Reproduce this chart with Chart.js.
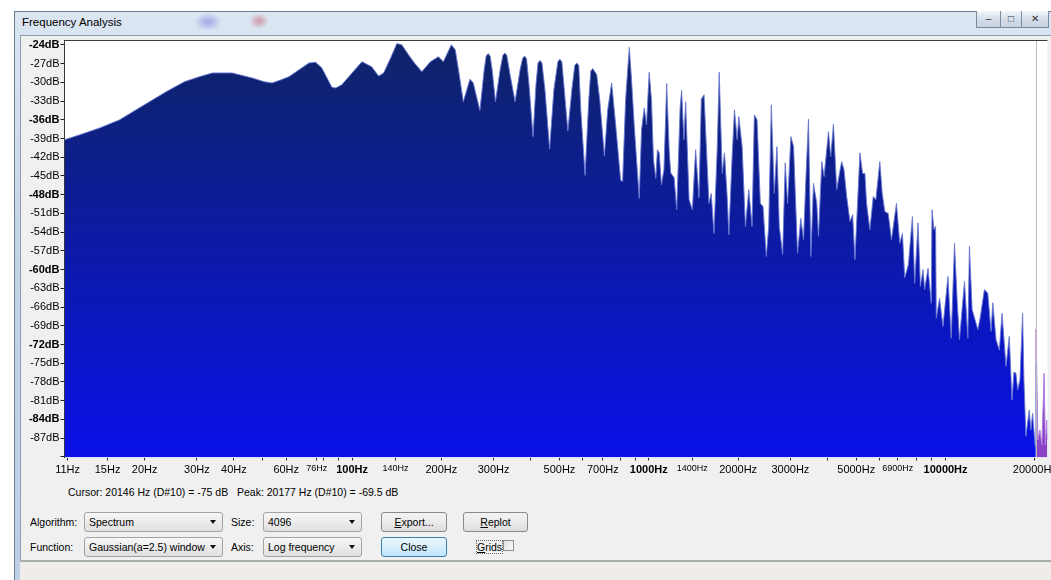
<!DOCTYPE html>
<html>
<head>
<meta charset="utf-8">
<title>Frequency Analysis</title>
<script src="https://cdn.jsdelivr.net/npm/chart.js"></script>
<style>
  html, body { margin: 0; padding: 0; }
  body { width: 1051px; height: 580px; overflow: hidden; position: relative; background: #fff;
         font-family: "Liberation Sans", Arial, sans-serif; }
  #frame { position: absolute; left: 14px; top: 11px; width: 1060px; height: 580px;
           border-left: 1px solid #6e7c8e; border-top: 1px solid #6e7c8e;
           background:
             radial-gradient(ellipse 14px 9px at 193px 10px, rgba(120,110,220,0.55), rgba(120,110,220,0) 100%),
             radial-gradient(ellipse 10px 8px at 244px 9px, rgba(200,90,110,0.55), rgba(200,90,110,0) 100%),
             linear-gradient(#dbe6f2, #c4d5e8 40%, #bcd0e6); }
  #title { position: absolute; left: 22px; top: 16px; font-size: 11.5px; color: #000; }
  #client { position: absolute; left: 20px; top: 35px; width: 1050px; height: 525px;
            background: #f0f0f0; border-left: 1px solid #8e9bad; border-top: 1px solid #8e9bad; }
  #status { position: absolute; left: 20px; top: 560px; width: 1050px; height: 20px;
            background: #f0ecea; border-top: 2px solid #a9adac; }
  .tb { position: absolute; top: 11px; height: 17px; border: 1px solid #7a8aa0; border-top: none;
        background: linear-gradient(#f4f7fb, #d5deea 50%, #c6d2e2); box-sizing: border-box; }
  .tb span { position: absolute; left: 0; right: 0; text-align: center; font-size: 10px; color: #333; top: 2px; }
  .lbl { position: absolute; font-size: 10.5px; color: #000; white-space: nowrap; }
  .combo { position: absolute; height: 20px; box-sizing: border-box; border: 1px solid #a3a3a3; border-radius: 3px;
           background: linear-gradient(#f7f7f7, #ececec 50%, #dfdfdf); font-size: 10.5px; line-height: 18px;
           padding-left: 4px; white-space: nowrap; }
  .combo::after { content: ""; position: absolute; right: 6px; top: 7px; border-left: 3.5px solid transparent;
                  border-right: 3.5px solid transparent; border-top: 4px solid #111; }
  .btn { position: absolute; height: 20px; box-sizing: border-box; border: 1px solid #8a8a8a; border-radius: 3px;
         background: linear-gradient(#f3f3f3, #ebebeb 50%, #dcdcdc); font-size: 10.5px; line-height: 18px;
         text-align: center; }
  .btn.focus { border-color: #3c7fb1; background: linear-gradient(#eaf6fd, #d9effc 50%, #bee6fd); }
  #chk { position: absolute; left: 503px; top: 540px; width: 11px; height: 11px; box-sizing: border-box;
         border: 1px solid #8f8f8f; background: linear-gradient(135deg, #e0e0e0, #fafafa); }
  #spec { position: absolute; left: 0; top: 0; }
</style>
</head>
<body>
<div id="frame"></div>
<div id="title">Frequency Analysis</div>
<div class="tb" style="left:976px;width:25px;"><span>&#8211;</span></div>
<div class="tb" style="left:1000px;width:22px;"><span>&#9633;</span></div>
<div class="tb" style="left:1021px;width:28px;"><span>&#10005;</span></div>
<div id="client"></div>
<div id="status"></div>

<div class="lbl" style="left:68px;top:486px;">Cursor: 20146 Hz (D#10) = -75 dB&nbsp;&nbsp;&nbsp;Peak: 20177 Hz (D#10) = -69.5 dB</div>

<div class="lbl" style="left:30px;top:516px;">Algorithm:</div>
<div class="combo" style="left:84px;top:512px;width:139px;">Spectrum</div>
<div class="lbl" style="left:231px;top:516px;">Size:</div>
<div class="combo" style="left:263px;top:512px;width:99px;">4096</div>
<div class="btn" style="left:381px;top:512px;width:66px;"><u>E</u>xport...</div>
<div class="btn" style="left:463px;top:512px;width:65px;"><u>R</u>eplot</div>

<div class="lbl" style="left:30px;top:541px;">Function:</div>
<div class="combo" style="left:84px;top:537px;width:139px;">Gaussian(a=2.5) window</div>
<div class="lbl" style="left:231px;top:541px;">Axis:</div>
<div class="combo" style="left:263px;top:537px;width:99px;">Log frequency</div>
<div class="btn focus" style="left:381px;top:537px;width:66px;">Close</div>
<div class="lbl" style="left:477px;top:541px;outline:1px dotted #666;"><u>G</u>rids</div>
<div id="chk"></div>

<canvas id="spec" width="1060" height="500"></canvas>

<script>
// spectrum: frequency (Hz) and level (dB)
const freqHz = [
  10.74, 12.1, 14.13, 16.49, 18.27, 20.78, 23.64, 27.24, 30.6, 33.82, 39.48, 46.07, 50.54, 53.77, 57.65, 61.3,
  66.25, 71.57, 75.4, 79.1, 85.5, 88.2, 92.35, 97.5,
  108, 116.4, 122.9, 127.8, 134.9, 141.6, 147.1, 155, 162.3, 171.8, 183.7, 195.4, 203.1, 216.1, 222.8, 229.8,
  237.1, 249.7, 256.1, 269.7, 278.8, 283.1, 287.5, 292.0, 296.6, 304.3, 315.5, 322.2, 327.2, 332.3, 340.9, 354.3,
  368.3, 375.4, 381.3, 387.2, 394.8, 407.2, 416.7, 423.2, 429.8, 436.5, 446.7, 463.2, 478.8, 493.8, 501.5, 509.3,
  517.3, 533.6, 550.4, 563.1, 571.9, 580.8, 590, 609.9, 627.7, 637.5, 647.4, 667.7, 683.4,
  708.6, 726.9, 749.7, 773.3, 803.6, 816.1, 835.3, 859.5, 874.9, 893.3, 909.4, 928.6, 945.3, 965.1, 982.4, 1003,
  1021, 1037, 1056, 1069, 1084, 1103, 1125, 1149, 1171, 1185, 1217, 1242, 1275, 1290, 1313, 1331, 1367, 1402,
  1438, 1476, 1503, 1535, 1574, 1595, 1623, 1658, 1700, 1727, 1768, 1799, 1837, 1861, 1909, 1944, 1985, 2011,
  2063, 2116, 2173, 2228, 2268, 2316, 2376, 2426, 2489, 2535, 2587, 2647, 2703, 2752, 2825, 2882, 2936, 3012,
  3075, 3171, 3253, 3322, 3389, 3453, 3516, 3589, 3682, 3731, 3828, 3896, 4031, 4103, 4190, 4298, 4382, 4467,
  4547, 4643, 4763, 4863, 4950, 5145, 5254, 5348, 5419, 5559, 5707, 5823, 6005, 6118, 6242, 6408, 6573, 6833,
  7009, 7157, 7285, 7496, 7733, 7871, 8080, 8225, 8399, 8502, 8728, 8954, 9003, 9143, 9256, 9306, 9547, 9802,
  10186, 10450, 10720, 10947, 11143, 11582, 11890, 12036, 12290, 12846, 13076, 13517, 13877, 14236, 14424, 14795,
  15178, 15499, 15985, 16398, 16742, 17003, 17268, 17500, 17812, 18185, 18370, 18656, 19138, 19391, 19647, 20045,
  20146
];
const levelDb = [
  -39.2, -38.4, -37.3, -36.0, -34.7, -33.1, -31.5, -29.9, -29.1, -28.5, -28.5, -29.3, -29.9, -30.1, -29.6, -29.1,
  -28.0, -26.9, -26.8, -27.7, -30.8, -30.9, -30.4, -29.1,
  -26.7, -27.5, -29.0, -28.5, -26.1, -23.8, -24.0, -25.6, -26.9, -28.3, -26.7, -25.9, -26.7, -24.0, -24.8, -28.8,
  -33.1, -29.5, -30.1, -34.5, -28.0, -25.8, -25.4, -25.8, -28.0, -33.1, -28.0, -25.7, -25.3, -25.7, -28.8, -33.1,
  -28.0, -26.2, -25.8, -26.2, -30.4, -38.7, -30.4, -26.9, -26.5, -26.9, -31.2, -40.7, -31.2, -26.7, -26.3, -26.7,
  -30.4, -37.8, -31.2, -27.3, -26.9, -27.3, -34.4, -44.9, -32.8, -28.2, -27.8, -28.8, -32.8,
  -41.8, -34.4, -30.1, -36.8, -45.7, -45.9, -32.8, -24.4, -29.6, -37.0, -42.4, -48.6, -37.6, -34.1, -36.8, -28.4,
  -32.8, -42.4, -45.4, -40.8, -41.3, -46.4, -44.0, -30.2, -40.8, -44.5, -45.3, -50.4, -34.1, -31.3, -39.2, -33.1,
  -48.8, -50.4, -40.8, -48.5, -32.7, -32.0, -43.5, -49.4, -47.8, -54.2, -40.8, -28.4, -44.6, -41.3, -48.3, -54.4,
  -41.9, -34.4, -39.2, -35.5, -40.3, -53.1, -47.2, -53.1, -35.2, -36.0, -49.4, -49.9, -57.9, -53.1, -33.6, -47.8,
  -40.3, -53.1, -57.6, -42.9, -49.4, -38.7, -40.3, -57.4, -51.8, -55.2, -44.6, -35.9, -57.9, -46.2, -49.4, -54.7,
  -42.7, -45.1, -37.9, -41.9, -36.7, -47.2, -44.8, -42.7, -44.0, -48.3, -52.3, -51.2, -58.4, -41.3, -44.6, -44.6,
  -49.4, -53.6, -48.3, -48.8, -42.7, -47.8, -50.7, -51.0, -55.2, -49.4, -55.8, -54.2, -61.3, -59.2, -51.5, -62.2,
  -52.5, -62.7, -60.0, -63.2, -59.8, -65.4, -50.4, -53.6, -53.1, -67.8, -64.6, -69.1, -61.1, -71.0, -55.8, -65.1,
  -71.2, -61.9, -71.0, -56.3, -66.4, -69.6, -67.8, -63.2, -63.8, -69.9, -65.3, -71.2, -72.9, -67.0, -75.5, -70.7,
  -80.9, -76.4, -76.6, -79.3, -77.7, -67.0, -77.7, -86.7, -82.5, -85.7, -83.0, -88.3, -75.0
];
// part right of the cursor (drawn highlighted)
const tailHz = [20146, 20177, 20470, 20790, 21110, 21490, 21690, 21950, 22050];
const tailDb = [-75, -69.5, -87.3, -85.7, -88.1, -76.6, -88.1, -84.1, -87.3];
const cursorHz = 20146;

const yTicks = [-24, -27, -30, -33, -36, -39, -42, -45, -48, -51, -54, -57, -60, -63, -66, -69, -72, -75, -78,
  -81, -84, -87, -90];
const yBold = [-24, -36, -48, -60, -72, -84];
const xTicks = [11, 15, 20, 30, 40, 50, 60, 76, 80, 90, 100, 140, 200, 300, 400, 500, 600, 700, 800, 900, 1000,
  1400, 2000, 3000, 4000, 5000, 6000, 6900, 8000, 9000, 10000, 20000];
const xLabelled = [11, 15, 20, 30, 40, 60, 76, 100, 140, 200, 300, 500, 700, 1000, 1400, 2000, 3000, 5000, 6900,
  10000, 20000];
const xBold = [100, 1000, 10000];
const xSmall = [76, 140, 1400, 6900];

const FONT = '"Liberation Sans", Arial, sans-serif';

const plotFrame = {
  id: 'plotFrame',
  beforeDraw(chart) {
    const { ctx, chartArea: a } = chart;
    ctx.save();
    ctx.fillStyle = '#fff';
    ctx.fillRect(a.left, a.top, a.right - a.left, a.bottom - a.top);
    ctx.restore();
  },
  afterDatasetsDraw(chart) {
    const { ctx, chartArea: a, scales: { x } } = chart;
    const cx = Math.round(x.getPixelForValue(cursorHz)) + 0.5;
    ctx.save();
    ctx.strokeStyle = '#b8b8b8';
    ctx.lineWidth = 1;
    ctx.beginPath();
    ctx.moveTo(cx, a.top);
    ctx.lineTo(cx, a.bottom);
    ctx.stroke();
    ctx.strokeStyle = '#3a3a3a';
    ctx.beginPath();
    ctx.moveTo(a.left, Math.floor(a.top) + 0.5);
    ctx.lineTo(a.right, Math.floor(a.top) + 0.5);
    ctx.stroke();
    ctx.restore();
  }
};

function blueFill(c) {
  const a = c.chart.chartArea;
  if (!a) return '#0a1a9a';
  const g = c.chart.ctx.createLinearGradient(0, a.top, 0, a.bottom);
  g.addColorStop(0, '#0f2466');
  g.addColorStop(1, '#0810e8');
  return g;
}

new Chart(document.getElementById('spec'), {
  type: 'line',
  data: {
    datasets: [{
      data: freqHz.map((f, i) => ({ x: f, y: levelDb[i] })),
      fill: 'start',
      backgroundColor: blueFill,
      borderColor: 'rgba(105,120,210,0.9)',
      borderWidth: 1,
      pointRadius: 0,
      tension: 0
    }, {
      data: tailHz.map((f, i) => ({ x: f, y: tailDb[i] })),
      fill: 'start',
      backgroundColor: '#8a42c6',
      borderColor: '#b07ee0',
      borderWidth: 1,
      pointRadius: 0,
      tension: 0
    }]
  },
  options: {
    responsive: false,
    devicePixelRatio: 1,
    animation: false,
    events: [],
    layout: { padding: { left: 0, top: 40.5, right: 8, bottom: 22.5 } },
    plugins: { legend: { display: false }, tooltip: { enabled: false } },
    scales: {
      x: {
        type: 'logarithmic',
        min: 10.74,
        max: 22050,
        bounds: 'data',
        afterBuildTicks: s => { s.ticks = xTicks.map(v => ({ value: v })); },
        afterFit: s => { s.height = 20; },
        border: { display: false },
        grid: { display: true, drawOnChartArea: false, drawTicks: true, tickLength: 3, color: '#222' },
        ticks: {
          autoSkip: false, maxRotation: 0, minRotation: 0, padding: 3, color: '#000',
          callback: v => xLabelled.includes(v) ? v + 'Hz' : '',
          font: c => {
            const v = c.tick ? c.tick.value : 0;
            if (xBold.includes(v)) return { family: FONT, size: 11, weight: 'bold' };
            if (xSmall.includes(v)) return { family: FONT, size: 9 };
            return { family: FONT, size: 11 };
          }
        }
      },
      y: {
        type: 'linear',
        min: -90.1,
        max: -23.3,
        bounds: 'data',
        afterBuildTicks: s => { s.ticks = yTicks.map(v => ({ value: v })); },
        afterFit: s => { s.width = 64.5; },
        border: { display: true, color: '#3a3a3a' },
        grid: { display: true, drawOnChartArea: false, drawTicks: true, tickLength: 4, color: '#222' },
        ticks: {
          autoSkip: false, padding: 1, color: '#000',
          callback: v => v === -90 ? '' : v + 'dB',
          font: c => {
            const v = c.tick ? c.tick.value : 0;
            return yBold.includes(v) ? { family: FONT, size: 11, weight: 'bold' } : { family: FONT, size: 11 };
          }
        }
      }
    }
  },
  plugins: [plotFrame]
});
</script>
</body>
</html>
